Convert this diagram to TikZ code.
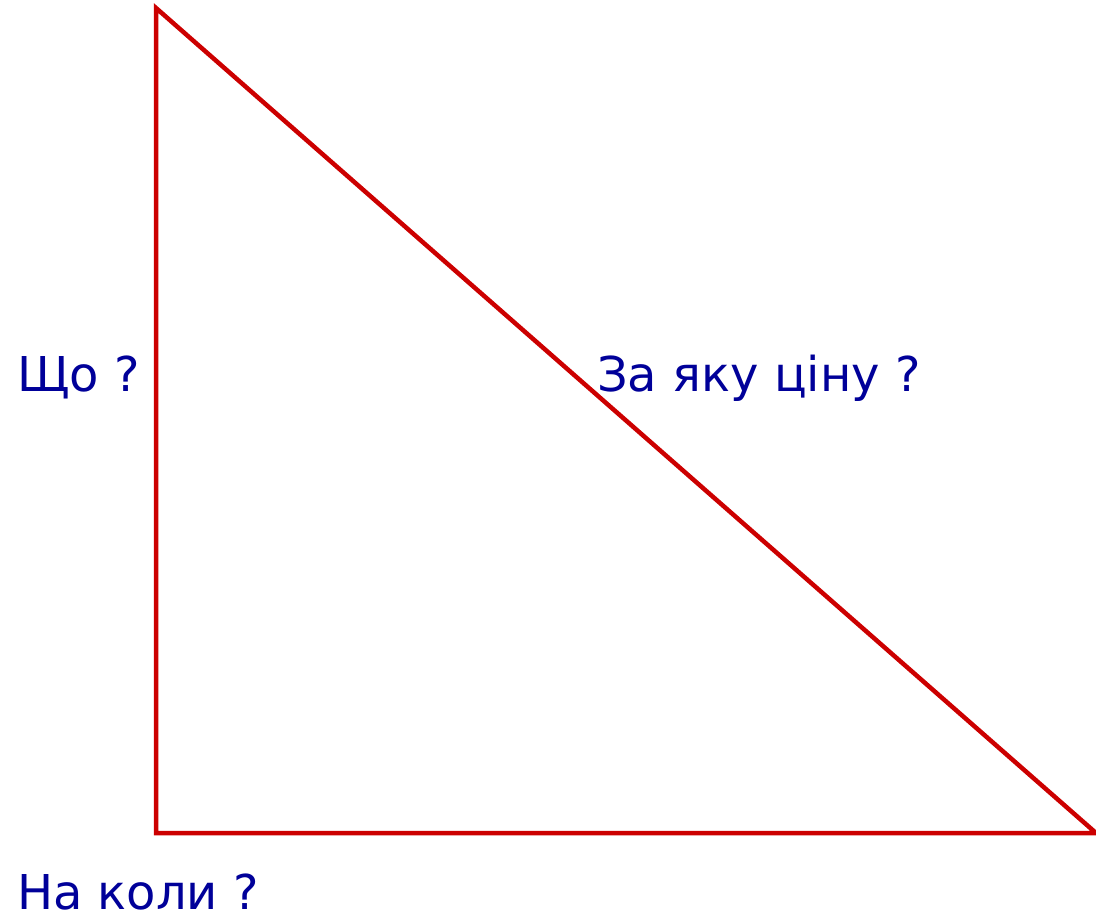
\documentclass[tikz,border=0pt]{standalone}
\usepackage{fontspec}
\setmainfont{DejaVu Sans}
\definecolor{tri}{RGB}{204,0,0}
\definecolor{lbl}{RGB}{0,0,153}
\tikzset{
  edge/.style={draw=tri, line width=4.5pt, line join=miter},
  lab/.style={text=lbl, inner sep=0pt, anchor=base west, font=\fontsize{48}{58}\selectfont}
}
\begin{document}
\begin{tikzpicture}[x=1pt,y=-1pt]
\useasboundingbox (0,0) rectangle (1096,919);
\coordinate (A) at (156,8);
\coordinate (B) at (156,833);
\coordinate (C) at (1096,833);
\draw[edge] (A) -- (B) -- (C) -- cycle;
\node[lab] (what) at (17,391) {Що ?};
\node[lab] (price) at (597,391) {За яку ціну ?};
\node[lab] (when) at (17,909) {На коли ?};
\end{tikzpicture}
\end{document}
